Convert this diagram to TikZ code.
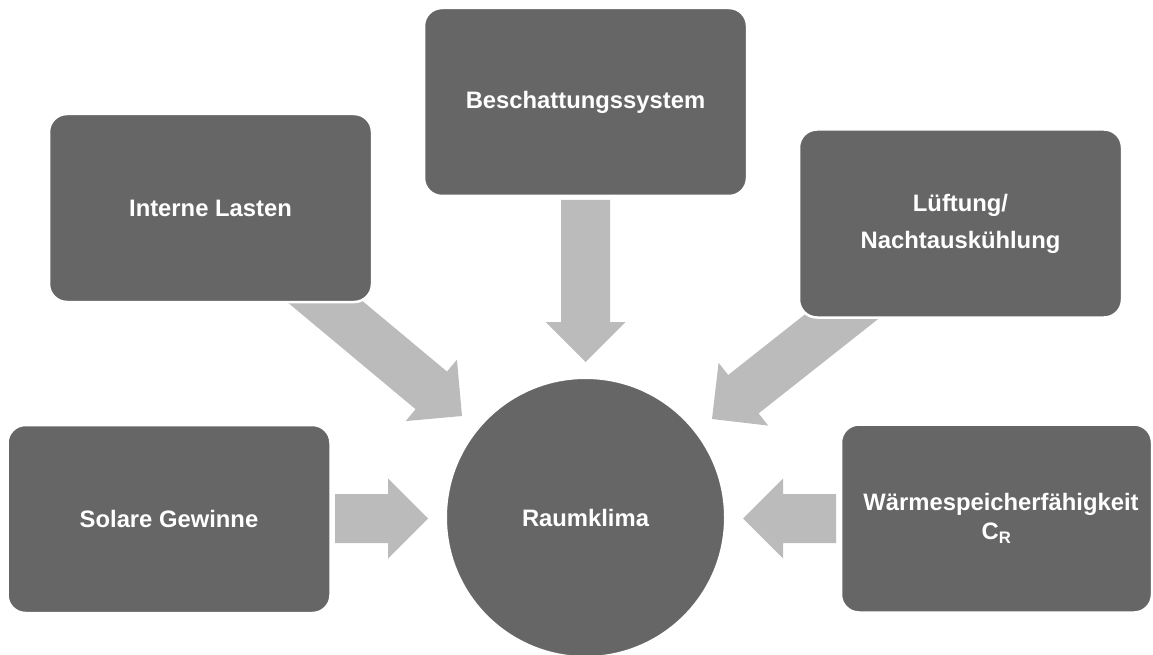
\documentclass[tikz,border=0pt]{standalone}
\usepackage{fontspec}
\setmainfont{Liberation Sans}
\usetikzlibrary{calc}
\definecolor{boxgray}{RGB}{102,102,102}
\definecolor{arrowgray}{RGB}{187,187,187}
\newcommand{\blkarrow}[2]{%
  \path (#2) coordinate (tipP) ($(#2)!40pt!(#1)$) coordinate (baseP);
  \fill[arrowfill]
    ($(#1)!24.5pt!90:(tipP)$) -- ($(baseP)!24.5pt!90:(tipP)$) --
    ($(baseP)!40pt!90:(tipP)$) -- (tipP) --
    ($(baseP)!40pt!-90:(tipP)$) -- ($(baseP)!24.5pt!-90:(tipP)$) --
    ($(#1)!24.5pt!-90:(tipP)$) -- cycle;}
\begin{document}
\begin{tikzpicture}[x=1pt,y=-1pt,
  arrowfill/.style={fill=arrowgray},
  boxnode/.style={rectangle, rounded corners=18pt, fill=boxgray, draw=white, line width=2.5pt,
    minimum width=323pt, minimum height=188pt, inner sep=0pt, text=white, align=center,
    font=\bfseries\fontsize{23.8}{37}\selectfont},
  klimanode/.style={circle, fill=boxgray, draw=white, line width=2pt, minimum size=279pt,
    inner sep=0pt, text=white, font=\bfseries\fontsize{23.8}{28}\selectfont}]
\clip (0,0) rectangle (1153,655);
\fill[white] (0,0) rectangle (1153,655);
% centre node position
\coordinate (kc) at (585.5,517.5);
% arrow end points
\coordinate (dT) at (585.5,200);  \coordinate (dP) at (585.5,362);
\coordinate (rT) at (335,518.5);  \coordinate (rP) at (428,518.5);
\coordinate (lT) at (836,518.5);  \coordinate (lP) at (743,518.5);
\coordinate (ilT) at (293,275);   \coordinate (ilP) at (462,416);
\coordinate (luT) at (884.7,282.6); \coordinate (luP) at (712,419);
\blkarrow{ilT}{ilP}
\blkarrow{luT}{luP}
\blkarrow{dT}{dP}
\blkarrow{rT}{rP}
\blkarrow{lT}{lP}
% boxes
\node[boxnode] (besch) at (585.5,102) {Beschattungssystem};
\node[boxnode] (intern) at (210.5,208) {Interne Lasten};
\node[boxnode] (lueft) at (960.5,223.5) {Lüftung/\\Nachtauskühlung};
\node[boxnode] (solar) at (169,519) {Solare Gewinne};
\node[boxnode, minimum width=311pt, font=\bfseries\fontsize{23.8}{29}\selectfont] (waerme) at (996.5,518.5)
  {\hspace*{9pt}Wärmespeicherfähigkeit\\C\textsubscript{R}};
\node[klimanode] (klima) at (kc) {Raumklima};
\end{tikzpicture}
\end{document}
